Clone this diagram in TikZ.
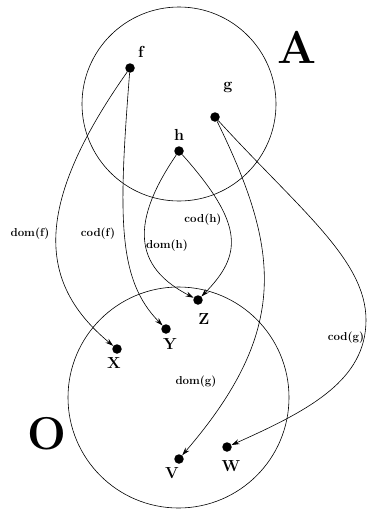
\documentclass[tikz,border=0pt]{standalone}
\usetikzlibrary{arrows.meta}
\begin{document}
\begin{tikzpicture}[x=1pt,y=-1pt,
  setline/.style={line width=0.6pt},
  pt/.style={circle,fill=black,inner sep=0pt,minimum size=9.5pt},
  ptlabel/.style={anchor=base,inner sep=0pt,font=\fontsize{16}{19}\selectfont\bfseries},
  setlabel/.style={anchor=base,inner sep=0pt,font=\fontsize{46}{50}\selectfont\bfseries},
  maplabel/.style={inner sep=0pt,font=\fontsize{11.5}{13}\selectfont\bfseries},
  arr/.style={line width=0.6pt,-{Stealth[length=8pt,width=5pt]}}]
\useasboundingbox (0,0) rectangle (367,509);

% the two sets
\draw[setline] (179,104) circle[radius=97];
\draw[setline] (178.5,397.5) circle[radius=110.5];
\node[setlabel] (lA) at (297,63) {A};
\node[setlabel] (lO) at (47,449) {O};

% arrows of A
\node[pt] (f) at (130,68) {};
\node[pt] (g) at (215,117) {};
\node[pt] (h) at (179,151) {};
\node[ptlabel] (lf) at (141,57) {f};
\node[ptlabel] (lg) at (228,89) {g};
\node[ptlabel] (lh) at (179,140) {h};

% objects of O
\node[pt] (X) at (117,349) {};
\node[pt] (Y) at (166,329) {};
\node[pt] (Z) at (198,300) {};
\node[pt] (V) at (179,459) {};
\node[pt] (W) at (227,447) {};
\node[ptlabel] (lX) at (114,368) {X};
\node[ptlabel] (lY) at (170,349) {Y};
\node[ptlabel] (lZ) at (204,324) {Z};
\node[ptlabel] (lV) at (172,478) {V};
\node[ptlabel] (lW) at (231,471) {W};

% domain and codomain maps
\draw[arr] (f) .. controls (30,210) and (40,285) .. (X);
\draw[arr] (f) .. controls (118,220) and (118,280) .. (Y);
\draw[arr] (h) .. controls (125,230) and (140,270) .. (Z);
\draw[arr] (h) .. controls (245,225) and (242,255) .. (Z);
\draw[arr] (g) .. controls (280,250) and (290,330) .. (V);
\draw[arr] (g) .. controls (300,210) and (366,260) .. (366,320)
               .. controls (366,380) and (310,410) .. (W);

\node[maplabel] (ldf) at (30,234) {dom(f)};
\node[maplabel] (lcf) at (98,234) {cod(f)};
\node[maplabel] (lch) at (203,220) {cod(h)};
\node[maplabel] (ldh) at (167,246) {dom(h)};
\node[maplabel] (ldg) at (196,382) {dom(g)};
\node[maplabel] (lcg) at (346,338) {cod(g)};
\end{tikzpicture}
\end{document}
